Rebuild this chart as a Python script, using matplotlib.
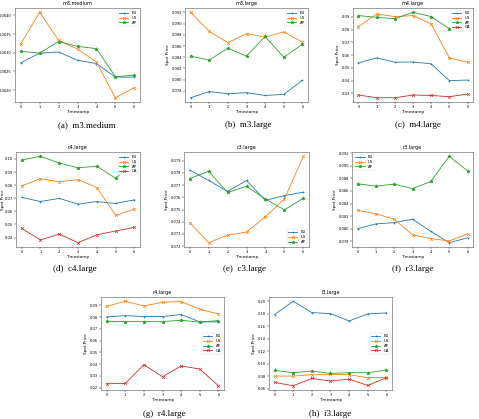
import matplotlib
matplotlib.use("Agg")
import matplotlib.pyplot as plt

t = [0, 1, 2, 3, 4, 5, 6]

# m3.medium
m3m_eu = [0.06273, 0.06299, 0.06302, 0.06280, 0.06271, 0.06235, 0.06235]
m3m_us = [0.06323, 0.06408, 0.06333, 0.06310, 0.06275, 0.06180, 0.06207]
m3m_ap = [0.06304, 0.06299, 0.06330, 0.06317, 0.06311, 0.06236, 0.06240]
# m3.large
m3l_eu = [0.0768, 0.0779, 0.0775, 0.0777, 0.0772, 0.0774, 0.0799]
m3l_us = [0.0920, 0.0886, 0.0866, 0.0882, 0.0876, 0.0885, 0.0867]
m3l_ap = [0.0842, 0.0835, 0.0856, 0.0842, 0.0877, 0.0840, 0.0863]
# m4.large
m4l_eu = [0.0539, 0.0579, 0.0545, 0.0547, 0.0532, 0.0400, 0.0405]
m4l_us = [0.0824, 0.0924, 0.0903, 0.0911, 0.0845, 0.0579, 0.0545]
m4l_ap = [0.0911, 0.0897, 0.0887, 0.0937, 0.0903, 0.0808, 0.0830]
m4l_ca = [0.0287, 0.0266, 0.0266, 0.0287, 0.0284, 0.0274, 0.0295]
# c4.large
c4l_eu = [0.0707, 0.0675, 0.0699, 0.0655, 0.0675, 0.0660, 0.0688]
c4l_us = [0.0795, 0.0849, 0.0826, 0.0842, 0.0782, 0.0569, 0.0618]
c4l_ap = [0.0992, 0.1020, 0.0969, 0.0932, 0.0945, 0.0852, 0.0970]
c4l_ca = [0.0470, 0.0382, 0.0426, 0.0361, 0.0421, 0.0450, 0.0478]
# c3.large
c3l_eu = [0.07824, 0.07738, 0.07648, 0.07738, 0.07575, 0.07614, 0.07642]
c3l_us = [0.07393, 0.07228, 0.07290, 0.07315, 0.07441, 0.07586, 0.07936]
c3l_ap = [0.07754, 0.07813, 0.07640, 0.07690, 0.07586, 0.07497, 0.07592]
# r3.large
r3l_eu = [0.08000, 0.08076, 0.08097, 0.08151, 0.07957, 0.07778, 0.07854]
r3l_us = [0.08292, 0.08238, 0.08151, 0.07903, 0.07843, 0.07805, 0.07919]
r3l_ap = [0.08714, 0.08676, 0.08708, 0.08638, 0.08750, 0.09150, 0.08920]
# r4.large
r4l_eu = [0.0801, 0.0812, 0.0804, 0.0804, 0.0821, 0.0759, 0.0759]
r4l_us = [0.0891, 0.0934, 0.0894, 0.0925, 0.0931, 0.0866, 0.0826]
r4l_ap = [0.0764, 0.0761, 0.0761, 0.0761, 0.0773, 0.0756, 0.0770]
r4l_ca = [0.0234, 0.0237, 0.0396, 0.0294, 0.0385, 0.0359, 0.0217]
# i3.large
i3l_eu = [0.1786, 0.2000, 0.1818, 0.1802, 0.1684, 0.1797, 0.1813]
i3l_us = [0.0802, 0.0802, 0.0824, 0.0829, 0.0824, 0.0776, 0.0781]
i3l_ap = [0.0893, 0.0856, 0.0882, 0.0845, 0.0856, 0.0856, 0.0898]
i3l_ca = [0.0701, 0.0647, 0.0765, 0.0722, 0.0754, 0.0652, 0.0776]

names = ['EU', 'US', 'AP', 'CA']
colors = ['#1f77b4', '#ff7f0e', '#2ca02c', '#d62728']
marks = ['+', 'x', '*', 'x']

W, H = 479, 419
fig = plt.figure(figsize=(W / 100, H / 100), dpi=100)

# (title, series, caption, axes px box [x0, x1, y0, y1], caption center x, caption y, legend loc, show ylabel, ytick fmt)
panels = [
    ('m3.medium', [m3m_eu, m3m_us, m3m_ap], '(a)  m3.medium', [15, 140, 8, 102], 87, 125, 'upper right', False, '%.4f'),
    ('m3.large', [m3l_eu, m3l_us, m3l_ap], '(b)  m3.large', [185, 308, 8, 102], 248, 125, 'upper right', True, '%.3f'),
    ('m4.large', [m4l_eu, m4l_us, m4l_ap, m4l_ca], '(c)  m4.large', [353, 473, 8, 102], 418, 125, 'upper right', True, '%.2f'),
    ('c4.large', [c4l_eu, c4l_us, c4l_ap, c4l_ca], '(d)  c4.large', [16, 140, 152, 247], 75, 269, 'upper right', True, '%.2f'),
    ('c3.large', [c3l_eu, c3l_us, c3l_ap], '(e)  c3.large', [184, 309, 152, 247], 244, 269, 'lower right', True, '%.3f'),
    ('r3.large', [r3l_eu, r3l_us, r3l_ap], '(f)  r3.large', [352, 473, 152, 247], 413, 269, 'upper left', True, '%.3f'),
    ('r4.large', [r4l_eu, r4l_us, r4l_ap, r4l_ca], '(g)  r4.large', [101, 224, 297, 390], 164, 414, 'center right', True, '%.2f'),
    ('i3.large', [i3l_eu, i3l_us, i3l_ap, i3l_ca], '(h)  i3.large', [269, 392, 297, 390], 330, 414, 'center right', True, '%.2f'),
]

for title, series, cap, box, cx, cy, loc, ylab, fmt in panels:
    x0, x1, y0, y1 = box
    ax = fig.add_axes([x0 / W, 1 - y1 / H, (x1 - x0) / W, (y1 - y0) / H])
    for i, s in enumerate(series):
        ax.plot(t, s, marker=marks[i], color=colors[i], lw=0.6, ms=2 if i != 2 else 2.5,
                mew=0.5, label=names[i])
    ax.set_title(title, fontsize=3.5, pad=2)
    ax.set_xlabel('Timestamp', fontsize=3, labelpad=1)
    if ylab:
        ax.set_ylabel('Spot Price', fontsize=3, labelpad=1)
        if x0 < 30:
            # keep the label inside the figure for the leftmost panel
            ax.yaxis.set_label_coords(-11 / (x1 - x0), 0.5)
    ax.set_xticks(t)
    ax.yaxis.set_major_formatter(matplotlib.ticker.FormatStrFormatter(fmt))
    ax.tick_params(labelsize=2.6, length=1.2, width=0.3, pad=1)
    for sp in ax.spines.values():
        sp.set_linewidth(0.4)
        sp.set_color('#555555')
    ax.legend(loc=loc, fontsize=2.8, handlelength=2.5, borderpad=0.3,
              labelspacing=0.2, framealpha=0.8, fancybox=True).get_frame().set_linewidth(0.3)
    fig.text(cx / W, 1 - cy / H, cap, ha='center', va='center', fontsize=6.5,
             family='Liberation Serif')

fig.savefig('out.png', dpi=100)
